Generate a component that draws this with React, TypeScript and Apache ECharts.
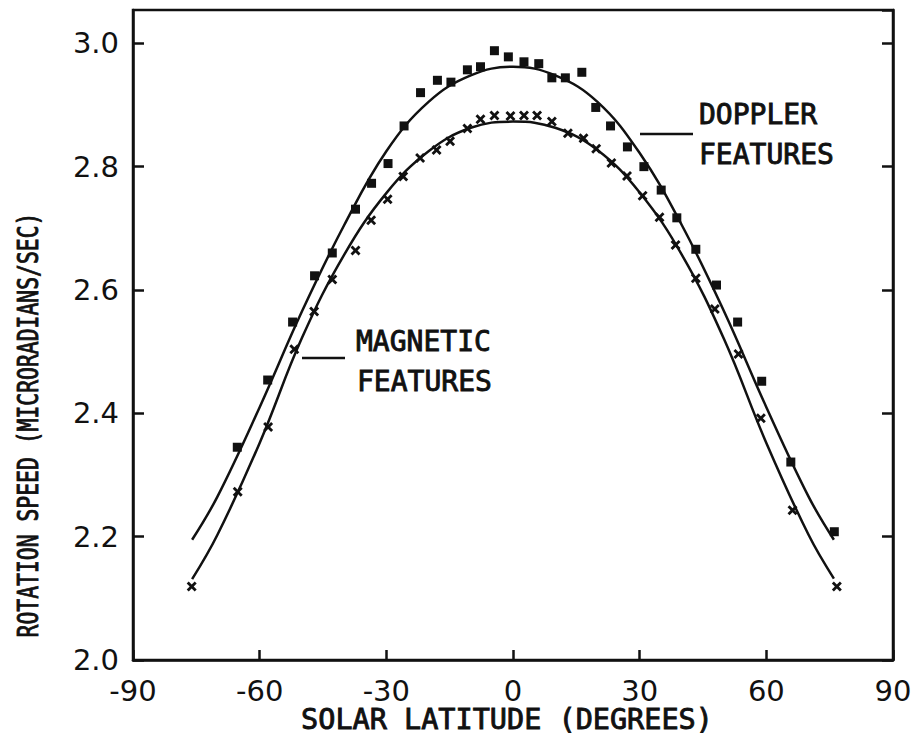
import React, { useEffect, useRef } from "react";
import * as echarts from "echarts";

// Fitted curves
const curveLat = [-76, -70, -60, -50, -40, -30, -20, -10, 0, 10, 20, 30, 40, 50, 60, 70, 76];
const dopplerCurve = [2.195, 2.265, 2.41, 2.565, 2.705, 2.825, 2.905, 2.948, 2.962, 2.948, 2.905, 2.822, 2.705, 2.565, 2.41, 2.265, 2.195];
const magneticCurve = [2.131, 2.203, 2.352, 2.522, 2.657, 2.757, 2.825, 2.863, 2.873, 2.863, 2.827, 2.758, 2.657, 2.52, 2.352, 2.203, 2.132];

// Doppler data points (squares)
const dopplerLat = [-65.3, -58.1, -52.2, -47.0, -42.8, -37.3, -33.5, -29.6, -25.8, -21.9, -17.9, -14.7, -10.8, -7.7, -4.4, -1.1, 2.6, 6.1, 9.2, 12.4, 16.3, 19.6, 23.1, 27.1, 31.0, 35.1, 38.8, 43.3, 48.2, 53.2, 58.9, 65.8, 76.1];
const dopplerVal = [2.345, 2.454, 2.548, 2.623, 2.66, 2.731, 2.773, 2.805, 2.866, 2.92, 2.94, 2.937, 2.957, 2.962, 2.988, 2.978, 2.97, 2.967, 2.944, 2.944, 2.953, 2.896, 2.866, 2.832, 2.8, 2.762, 2.717, 2.666, 2.608, 2.548, 2.452, 2.321, 2.208];

// Magnetic data points (crosses)
const magneticLat = [-76.1, -65.2, -58.0, -51.8, -47.1, -42.8, -37.3, -33.6, -29.7, -26.0, -22.0, -18.1, -14.9, -10.8, -7.7, -4.4, -0.6, 2.6, 5.7, 9.2, 13.0, 16.7, 19.7, 23.3, 27.0, 30.7, 34.7, 38.5, 43.3, 47.8, 53.4, 58.7, 66.2, 76.7];
const magneticVal = [2.119, 2.273, 2.378, 2.504, 2.565, 2.617, 2.664, 2.713, 2.747, 2.784, 2.814, 2.827, 2.841, 2.862, 2.877, 2.883, 2.882, 2.883, 2.883, 2.873, 2.854, 2.846, 2.829, 2.806, 2.785, 2.753, 2.718, 2.673, 2.619, 2.569, 2.496, 2.392, 2.243, 2.119];

const xTicks = [-90, -60, -30, 0, 30, 60, 90];
const yTicks = [2.0, 2.2, 2.4, 2.6, 2.8, 3.0];

const xTitle = "SOLAR LATITUDE (DEGREES)";
const yTitle = "ROTATION SPEED (MICRORADIANS/SEC)";
const dopplerLabel = ["DOPPLER", "FEATURES"];
const magneticLabel = ["MAGNETIC", "FEATURES"];

const INK = "#111";
const PLOT_FONT = '"DejaVu Sans Mono", monospace';
const NUM_FONT = '"DejaVu Sans", sans-serif';

const CROSS = "path://M0,2L2,0L5,3L8,0L10,2L7,5L10,8L8,10L5,7L2,10L0,8L3,5Z";

function measure(text: string, font: string): number {
  const c = document.createElement("canvas");
  const ctx = c.getContext("2d");
  if (!ctx) return text.length * 10;
  ctx.font = font;
  return ctx.measureText(text).width;
}

export default function App() {
  const ref = useRef<HTMLDivElement>(null);
  useEffect(() => {
    if (!ref.current) return;
    const chart = echarts.init(ref.current, undefined, { renderer: "svg" });
    const yTitleSize = 28;
    const yW = measure(yTitle, `${yTitleSize}px "DejaVu Sans Mono"`);
    const yScale = 425 / yW;
    const xW = measure(xTitle, `28px "DejaVu Sans Mono"`);
    const xScale = 412 / xW;

    const isTick = (v: number, arr: number[]) => arr.some((t) => Math.abs(t - v) < 1e-6);
    const plotText = (text: string, x: number, y: number, extra: any = {}) => ({
      type: "text",
      x,
      y,
      ...extra,
      style: {
        text,
        font: `28px ${PLOT_FONT}`,
        fill: INK,
        stroke: INK,
        lineWidth: 0.9,
        textAlign: extra.align || "left",
        textVerticalAlign: "middle",
      },
    });

    const option: any = {
      animation: false,
      backgroundColor: "#fff",
      grid: { left: 133, right: 22, top: 10, bottom: 85, show: true, borderColor: INK, borderWidth: 2.5 },
      xAxis: {
        type: "value",
        min: -90,
        max: 90,
        interval: 30,
        axisLine: { show: true, onZero: false, lineStyle: { color: INK, width: 2.5 } },
        axisTick: { show: true, inside: true, length: 10, lineStyle: { color: INK, width: 2.5 } },
        splitLine: { show: false },
        axisLabel: {
          color: INK,
          fontFamily: NUM_FONT,
          fontSize: 29,
          margin: 16,
          formatter: (v: number) => (isTick(v, xTicks) ? String(v) : ""),
        },
      },
      yAxis: [
        {
          type: "value",
          min: 2.0,
          max: 3.054,
          interval: 0.2,
          axisLine: { show: true, onZero: false, lineStyle: { color: INK, width: 2.5 } },
          axisTick: { show: true, inside: true, length: 11, lineStyle: { color: INK, width: 2.5 } },
          splitLine: { show: false },
          axisLabel: {
            color: INK,
            fontFamily: NUM_FONT,
            fontSize: 29,
            margin: 14,
            showMaxLabel: false,
            formatter: (v: number) => (isTick(v, yTicks) ? v.toFixed(1) : ""),
          },
        },
        {
          type: "value",
          position: "right",
          min: 2.0,
          max: 3.054,
          interval: 0.2,
          axisLine: { show: true, onZero: false, lineStyle: { color: INK, width: 2.5 } },
          axisTick: { show: true, inside: true, length: 11, lineStyle: { color: INK, width: 2.5 } },
          splitLine: { show: false },
          axisLabel: { show: false },
        },
      ],
      series: [
        {
          name: "Doppler fit",
          type: "line",
          smooth: 0.4,
          showSymbol: false,
          lineStyle: { color: INK, width: 2.5 },
          data: curveLat.map((x, i) => [x, dopplerCurve[i]]),
          z: 2,
        },
        {
          name: "Magnetic fit",
          type: "line",
          smooth: 0.4,
          showSymbol: false,
          lineStyle: { color: INK, width: 2.5 },
          data: curveLat.map((x, i) => [x, magneticCurve[i]]),
          z: 2,
        },
        {
          name: "Doppler features",
          type: "scatter",
          symbol: "rect",
          symbolSize: 9,
          itemStyle: { color: INK, opacity: 1 },
          data: dopplerLat.map((x, i) => [x, dopplerVal[i]]),
          z: 3,
        },
        {
          name: "Magnetic features",
          type: "scatter",
          symbol: CROSS,
          symbolSize: 10,
          itemStyle: { color: INK, opacity: 1 },
          data: magneticLat.map((x, i) => [x, magneticVal[i]]),
          z: 3,
        },
      ],
      graphic: [
        plotText(xTitle, 507, 720, { align: "center", scaleX: xScale }),
        plotText(yTitle, 28, 425, { align: "center", rotation: Math.PI / 2, scaleX: yScale }),
        { type: "line", shape: { x1: 640, y1: 134, x2: 693, y2: 134 }, style: { stroke: INK, lineWidth: 2.5 } },
        plotText(dopplerLabel[0], 699, 114),
        plotText(dopplerLabel[1], 699, 154),
        { type: "line", shape: { x1: 302, y1: 358, x2: 345, y2: 358 }, style: { stroke: INK, lineWidth: 2.5 } },
        plotText(magneticLabel[0], 356, 341),
        plotText(magneticLabel[1], 357, 381),
      ],
    };
    chart.setOption(option);
    return () => chart.dispose();
  }, []);
  return <div ref={ref} style={{ position: "fixed", left: 0, top: 0, width: 915, height: 745 }} />;
}
